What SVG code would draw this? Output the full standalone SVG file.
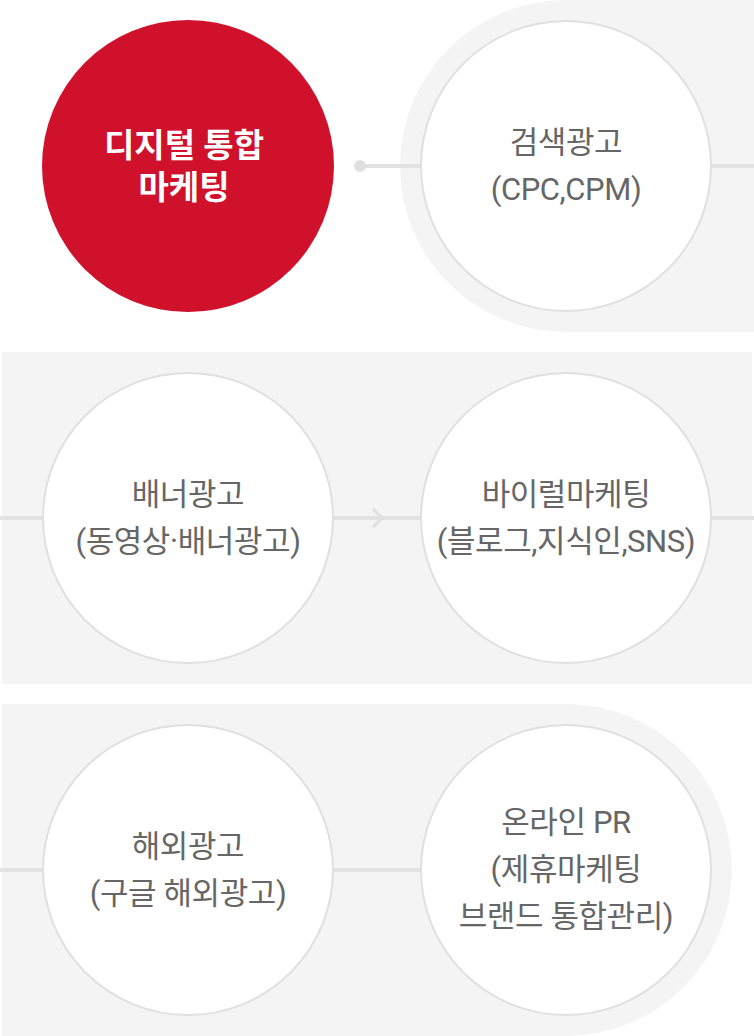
<svg xmlns="http://www.w3.org/2000/svg" width="754" height="1036" viewBox="0 0 754 1036">
<style>
.bg{fill:#f4f4f4}
.node{fill:#fff;stroke:#e0e0e0;stroke-width:2}
.line{stroke:#e2e2e2;stroke-width:4;fill:none}
.t{font-family:Roboto,"Noto Sans CJK KR",sans-serif;font-size:31px;letter-spacing:-0.4px;fill:#666;text-anchor:middle}
.tw{font-family:Roboto,"Noto Sans CJK KR",sans-serif;font-size:33px;font-weight:700;fill:#fff;text-anchor:middle}
</style>
<rect width="754" height="1036" fill="#fff"/>
<path class="bg" d="M566,0 H754 V332 H566 A166,166 0 0 1 566,0 Z"/>
<rect class="bg" x="2" y="352" width="750" height="332"/>
<path class="bg" d="M2,704 H566 A166,166 0 0 1 566,1036 H2 Z"/>
<g id="connectors">
<line class="line" x1="360" y1="166" x2="421" y2="166"/>
<circle cx="360" cy="166" r="6" fill="#e0e0e0"/>
<line class="line" x1="711" y1="166" x2="754" y2="166"/>
<line class="line" x1="0" y1="518" x2="42" y2="518"/>
<line class="line" x1="334" y1="518" x2="421" y2="518"/>
<polyline points="373,509 382,518 373,527" fill="none" stroke="#e0e0e0" stroke-width="3"/>
<line class="line" x1="711" y1="518" x2="754" y2="518"/>
<line class="line" x1="0" y1="870" x2="42" y2="870"/>
<line class="line" x1="334" y1="870" x2="421" y2="870"/>
</g>
<g id="node-main">
<circle cx="188" cy="166" r="146" fill="#d0112b"/>
<text class="tw" x="184" y="157">디지털 통합</text>
<text class="tw" x="184" y="199">마케팅</text>
</g>
<g id="node-search">
<circle class="node" cx="566" cy="166" r="145"/>
<text class="t" x="566" y="153">검색광고</text>
<text class="t" x="566" y="200">(CPC,CPM)</text>
</g>
<g id="node-banner">
<circle class="node" cx="188" cy="518" r="145"/>
<text class="t" x="188" y="505">배너광고</text>
<text class="t" x="188" y="552">(동영상·배너광고)</text>
</g>
<g id="node-viral">
<circle class="node" cx="566" cy="518" r="145"/>
<text class="t" x="566" y="505">바이럴마케팅</text>
<text class="t" x="566" y="552">(블로그,지식인,SNS)</text>
</g>
<g id="node-overseas">
<circle class="node" cx="188" cy="870" r="145"/>
<text class="t" x="188" y="857">해외광고</text>
<text class="t" x="188" y="904">(구글 해외광고)</text>
</g>
<g id="node-pr">
<circle class="node" cx="566" cy="870" r="145"/>
<text class="t" x="566" y="833">온라인 PR</text>
<text class="t" x="566" y="880">(제휴마케팅</text>
<text class="t" x="566" y="927">브랜드 통합관리)</text>
</g>
</svg>
